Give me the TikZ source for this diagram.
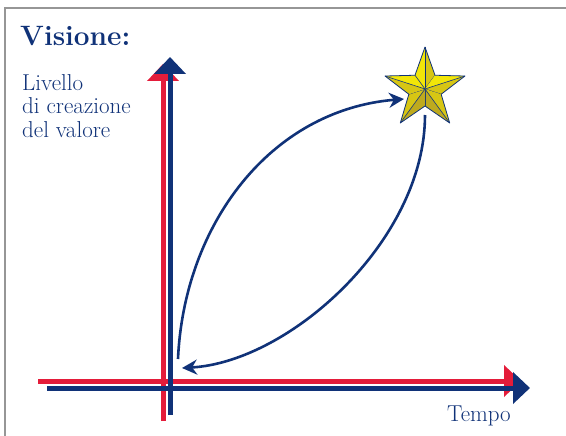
\documentclass[tikz,border=0pt]{standalone}
\usepackage{tikz}
\usetikzlibrary{arrows.meta, calc}

\definecolor{navy}{RGB}{16,50,120}
\definecolor{axisred}{RGB}{228,28,58}
\definecolor{framegray}{RGB}{150,150,150}
\definecolor{starA}{RGB}{242,230,8}
\definecolor{starB}{RGB}{215,198,20}
\definecolor{starC}{RGB}{190,170,30}

\begin{document}
\begin{tikzpicture}[x=1pt, y=-1pt,
  axis/.style={line width=5pt, -{Triangle[width=31pt,length=17pt]}},
  path/.style={navy, line width=2.6pt, -{Stealth[length=15pt,width=15pt]}},
  label/.style={navy, inner sep=0pt, font=\fontsize{23}{23.7}\selectfont}]
  \useasboundingbox (0,0) rectangle (566,436);

  % Frame (top and left edge only)
  \draw[framegray, line width=1.5pt] (566,8) -- (5,8) -- (5,436);

  % Title and axis labels
  \node[navy, inner sep=0pt, anchor=base west, font=\fontsize{28}{30}\bfseries\selectfont]
    (title) at (20,46) {Visione:};
  \node[label, anchor=north west, align=left] (ylabel) at (22,74)
    {Livello\\di creazione\\del valore};
  \node[label, anchor=base west] (xlabel) at (447,421) {Tempo};

  % Axes: red first, blue on top
  \coordinate (RedY0) at (163,421);  \coordinate (RedY1) at (163,64);
  \coordinate (RedX0) at (38,381);   \coordinate (RedX1) at (521,381);
  \coordinate (BlueY0) at (170,415); \coordinate (BlueY1) at (170,57);
  \coordinate (BlueX0) at (47,388);  \coordinate (BlueX1) at (530,388);
  \draw[axis, axisred] (RedX0) -- (RedX1);
  \draw[axis, axisred] (RedY0) -- (RedY1);
  \draw[axis, navy] (BlueX0) -- (BlueX1);
  \draw[axis, navy] (BlueY0) -- (BlueY1);

  % Star (vision)
  \coordinate (Star) at (425,89);
  \foreach \k/\ca/\cb in {0/starA/starB, 1/starA/starB, 2/starB/starC,
                          3/starC/starB, 4/starB/starA} {
    \pgfmathsetmacro{\ang}{-90+72*\k}
    \fill[\ca] (Star) -- ($(Star)+(\ang-36:17)$) -- ($(Star)+(\ang:42)$) -- cycle;
    \fill[\cb] (Star) -- ($(Star)+(\ang:42)$) -- ($(Star)+(\ang+36:17)$) -- cycle;
    \draw[navy, line width=0.8pt, line join=round]
      ($(Star)+(\ang-36:17)$) -- ($(Star)+(\ang:42)$) -- ($(Star)+(\ang+36:17)$);
    \draw[navy, line width=0.6pt] (Star) -- ($(Star)+(\ang:42)$);
    \draw[navy, line width=0.6pt] (Star) -- ($(Star)+(\ang+36:17)$);
  }

  % Growth path up to the star and back to the origin
  \coordinate (Start) at (178,359);
  \coordinate (StarIn) at (404,99);
  \coordinate (StarOut) at (425,115);
  \coordinate (Back) at (182,368);
  \draw[path] (Start) .. controls (184,225) and (270,110) .. (StarIn);
  \draw[path] (StarOut) .. controls (425,240) and (290,362) .. (Back);
\end{tikzpicture}
\end{document}
